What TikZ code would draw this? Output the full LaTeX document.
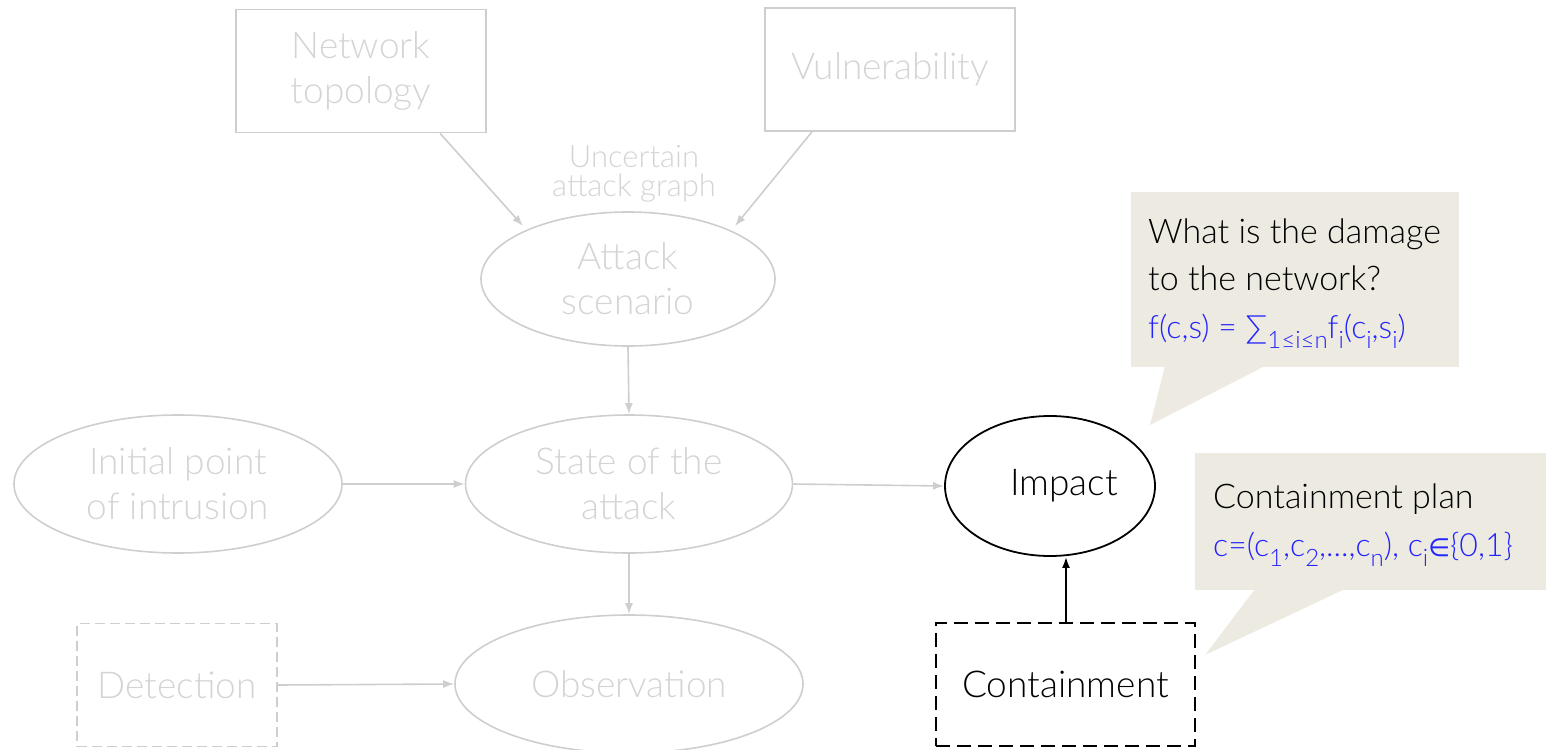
\documentclass[tikz,border=0pt]{standalone}
\usepackage{fontspec}
\setmainfont{Lato Light}
\newfontfamily\symfont{DejaVu Sans}
\usetikzlibrary{shapes.geometric,arrows.meta}
\definecolor{faded}{RGB}{206,206,206}
\definecolor{fadedtext}{RGB}{212,212,212}
\definecolor{notefill}{RGB}{237,235,225}
\definecolor{formula}{RGB}{35,35,255}
\newcommand{\lowsub}[1]{\raisebox{-0.32em}{\fontsize{24}{24}\selectfont #1}}
\begin{document}
\begin{tikzpicture}[x=1pt,y=-1pt,
  txt/.style={font=\fontsize{37}{45}\selectfont, align=center},
  greybox/.style={txt, draw=faded, line width=1.6pt, text=fadedtext, rectangle, inner sep=0pt},
  greyell/.style={txt, draw=faded, line width=1.6pt, text=fadedtext, ellipse, inner sep=0pt},
  greyarrow/.style={draw=faded, line width=1.6pt, -{Latex[length=11pt,width=8pt]}},
  note/.style={fill=notefill, draw=none},
  noteline/.style={font=\fontsize{34}{34}\selectfont, inner sep=0pt, anchor=base west},
  formulaline/.style={noteline, text=formula, font=\fontsize{32}{32}\selectfont}
]
\useasboundingbox (0,0) rectangle (1546,749);

% faded part of the model
\node[greybox, minimum width=250pt, minimum height=123pt] (topo) at (361,71) {Network\\topology};
\node[greybox, minimum width=250pt, minimum height=123pt] (vuln) at (890,69.5) {Vulnerability};
\node[txt, text=fadedtext, font=\fontsize{31}{29}\selectfont] (uag) at (634,174) {Uncertain\\attack graph};
\node[greyell, minimum width=294pt, minimum height=134pt] (scen) at (628,279) {Attack\\scenario};
\node[greyell, minimum width=327pt, minimum height=138pt] (state) at (629,484) {State of the\\attack};
\node[greyell, minimum width=328pt, minimum height=138pt] (init) at (178,484) {Initial point\\of intrusion};
\node[greyell, minimum width=348pt, minimum height=138pt] (obs) at (629,684) {Observation};
\node[greybox, dash pattern=on 10pt off 5pt, minimum width=200pt, minimum height=123pt] (det) at (177,685) {Detection};

% active part
\node[txt, draw=black, line width=1.8pt, ellipse, inner sep=0pt, minimum width=210pt, minimum height=140pt] (imp) at (1050,486) {\hspace*{28pt}Impact};
\node[txt, draw=black, line width=1.8pt, dash pattern=on 14pt off 7pt, minimum width=259pt, minimum height=123pt, inner sep=0pt] (cont) at (1065.5,684.5) {Containment};

% connectors
\draw[greyarrow] (topo.south -| 440,0) -- (523,226);
\draw[greyarrow] (vuln.south -| 812,0) -- (735,226);
\draw[greyarrow] (scen.south) -- (state.north);
\draw[greyarrow] (init.east) -- (state.west);
\draw[greyarrow] (state.east) -- (imp.west);
\draw[greyarrow] (state.south) -- (obs.north);
\draw[greyarrow] (det.east) -- (obs.west);
\draw[line width=1.8pt, -{Latex[length=11pt,width=8pt]}] (cont.north -| 1066,0) -- (imp.south -| 1066,0);

% callouts
\fill[note] (1131,192) rectangle (1459,367);
\fill[note] (1165,366) -- (1265,366) -- (1150,425) -- cycle;
\node[noteline] (q1a) at (1148,243) {What is the damage};
\node[noteline] (q1b) at (1148,290) {to the network?};
\node[formulaline] (q1c) at (1148,338) {f(c,s) = ∑\lowsub{1≤i≤n}f\lowsub{i}(c\lowsub{i},s\lowsub{i})};
\fill[note] (1195,453) rectangle (1546,590);
\fill[note] (1255,589) -- (1345,589) -- (1205,655) -- cycle;
\node[noteline] (q2a) at (1213,508) {Containment plan};
\node[formulaline] (q2b) at (1213,556) {c=(c\lowsub{1},c\lowsub{2},...,c\lowsub{n}), c\lowsub{i}{\symfont\fontsize{25}{25}\selectfont ∈}\{0,1\}};
\end{tikzpicture}
\end{document}
